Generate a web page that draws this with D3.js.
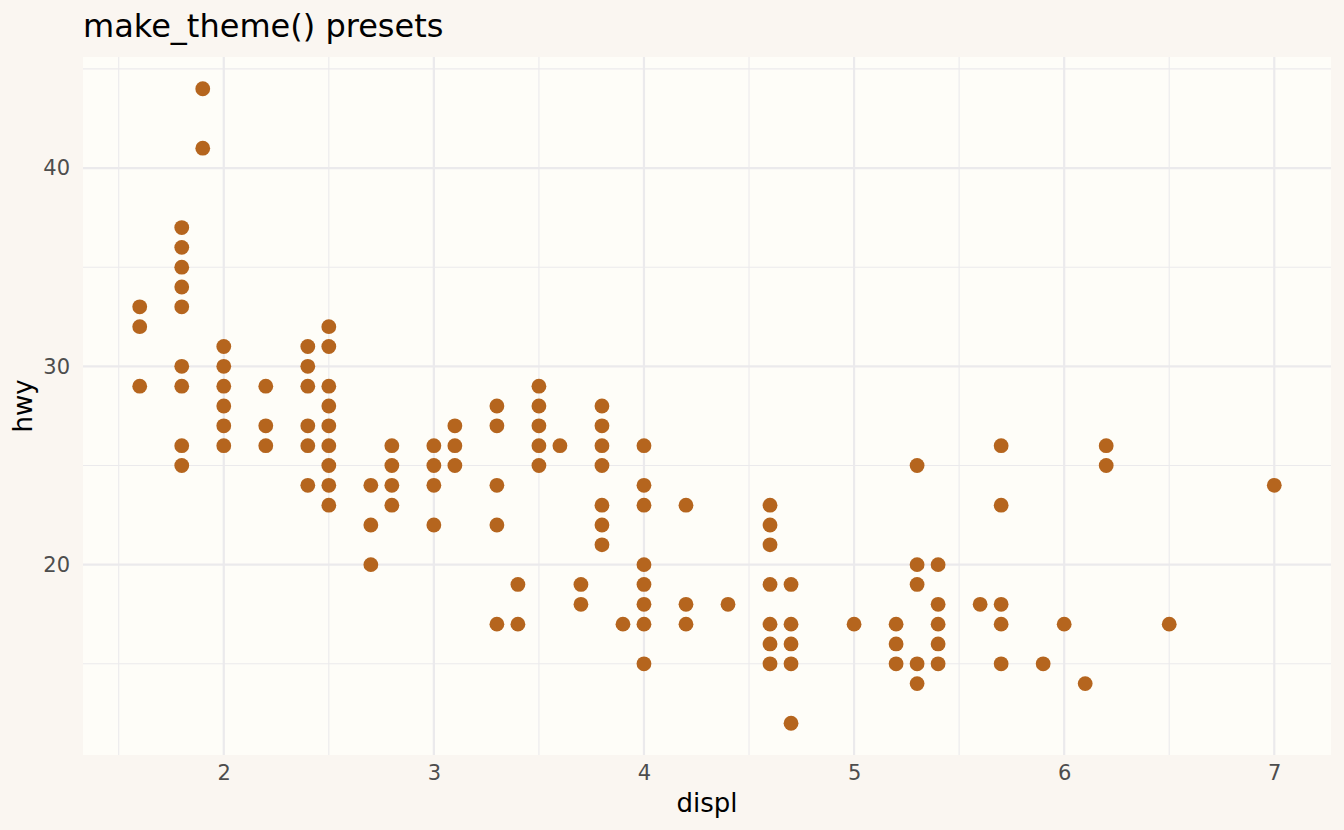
<!DOCTYPE html>
<html>
<head>
<meta charset="utf-8">
<script src="https://cdn.jsdelivr.net/npm/d3@7"></script>
<style>
  body { margin: 0; background: #faf6f1; }
  svg { display: block; font-family: "DejaVu Sans", sans-serif; }
  .tick text { fill: #4d4d4d; font-size: 21px; }
</style>
</head>
<body>
<div id="chart"></div>
<script>
// engine displacement and the highway mpg values seen at each one
const displ = [1.6, 1.8, 1.9, 2.0, 2.2, 2.4, 2.5, 2.7, 2.8, 3.0, 3.1, 3.3, 3.4, 3.5, 3.6, 3.7,
  3.8, 3.9, 4.0, 4.2, 4.4, 4.6, 4.7, 5.0, 5.2, 5.3, 5.4, 5.6, 5.7, 5.9, 6.0, 6.1, 6.2, 6.5, 7.0];
const hwy = [
  [33, 32, 29],
  [37, 36, 35, 34, 33, 30, 29, 26, 25],
  [44, 41],
  [31, 30, 29, 28, 27, 26],
  [29, 27, 26],
  [31, 30, 29, 27, 26, 24],
  [32, 31, 29, 28, 27, 26, 25, 24, 23],
  [24, 22, 20],
  [26, 25, 24, 23],
  [26, 25, 24, 22],
  [27, 26, 25],
  [28, 27, 24, 22, 17],
  [19, 17],
  [29, 28, 27, 26, 25],
  [26],
  [19, 18],
  [28, 27, 26, 25, 23, 22, 21],
  [17],
  [26, 24, 23, 20, 19, 18, 17, 15],
  [23, 18, 17],
  [18],
  [23, 22, 21, 19, 17, 16, 15],
  [19, 17, 16, 15, 12],
  [17],
  [17, 16, 15],
  [25, 20, 19, 15, 14],
  [20, 18, 17, 16, 15],
  [18],
  [26, 23, 18, 17, 15],
  [15],
  [17],
  [14],
  [26, 25],
  [17],
  [24],
];

const xTicks = [2, 3, 4, 5, 6, 7];
const xMinor = [1.5, 2.5, 3.5, 4.5, 5.5, 6.5];
const yTicks = [20, 30, 40];
const yMinor = [15, 25, 35, 45];

const points = displ.flatMap((d, i) => hwy[i].map((h) => ({ displ: d, hwy: h })));

const W = 1344, H = 830;
const panel = { left: 83, right: 1331, top: 57, bottom: 755 };

const svg = d3.select("#chart").append("svg")
  .attr("width", W)
  .attr("height", H);

svg.append("rect").attr("width", W).attr("height", H).attr("fill", "#faf6f1");

// ggplot-style 5% expansion on both axes
const xExt = d3.extent(points, (d) => d.displ),
  yExt = d3.extent(points, (d) => d.hwy);
const xPad = (xExt[1] - xExt[0]) * 0.05,
  yPad = (yExt[1] - yExt[0]) * 0.05;

const x = d3.scaleLinear()
  .domain([xExt[0] - xPad, xExt[1] + xPad])
  .range([panel.left, panel.right]);
const y = d3.scaleLinear()
  .domain([yExt[0] - yPad, yExt[1] + yPad])
  .range([panel.bottom, panel.top]);

svg.append("rect")
  .attr("x", panel.left).attr("y", panel.top)
  .attr("width", panel.right - panel.left)
  .attr("height", panel.bottom - panel.top)
  .attr("fill", "#fefdf8");

const grid = svg.append("g").attr("stroke", "#ebeaec");

grid.selectAll(".xminor").data(xMinor).enter().append("line")
  .attr("x1", (d) => x(d)).attr("x2", (d) => x(d))
  .attr("y1", panel.top).attr("y2", panel.bottom)
  .attr("stroke-width", 1.1);
grid.selectAll(".yminor").data(yMinor).enter().append("line")
  .attr("x1", panel.left).attr("x2", panel.right)
  .attr("y1", (d) => y(d)).attr("y2", (d) => y(d))
  .attr("stroke-width", 1.1);
grid.selectAll(".xmajor").data(xTicks).enter().append("line")
  .attr("x1", (d) => x(d)).attr("x2", (d) => x(d))
  .attr("y1", panel.top).attr("y2", panel.bottom)
  .attr("stroke-width", 2.2);
grid.selectAll(".ymajor").data(yTicks).enter().append("line")
  .attr("x1", panel.left).attr("x2", panel.right)
  .attr("y1", (d) => y(d)).attr("y2", (d) => y(d))
  .attr("stroke-width", 2.2);

// tick labels only, no tick marks or axis line
const xAxis = svg.append("g")
  .attr("transform", "translate(0," + panel.bottom + ")")
  .call(d3.axisBottom(x).tickValues(xTicks).tickSize(0).tickPadding(10).tickFormat(d3.format("d")));
const yAxis = svg.append("g")
  .attr("transform", "translate(" + panel.left + ",0)")
  .call(d3.axisLeft(y).tickValues(yTicks).tickSize(0).tickPadding(13).tickFormat(d3.format("d")));
xAxis.select(".domain").remove();
yAxis.select(".domain").remove();
svg.selectAll(".tick text").attr("font-family", "DejaVu Sans").attr("font-size", 21);

svg.selectAll(".dot")
  .data(points)
  .enter()
  .append("circle")
  .attr("class", "dot")
  .attr("cx", (d) => x(d.displ))
  .attr("cy", (d) => y(d.hwy))
  .attr("r", 7.4)
  .attr("fill", "#b5651e");

svg.append("text")
  .attr("x", panel.left).attr("y", 37)
  .attr("font-size", 32)
  .attr("fill", "#000")
  .text("make_theme() presets");

svg.append("text")
  .attr("x", (panel.left + panel.right) / 2).attr("y", 812)
  .attr("text-anchor", "middle")
  .attr("font-size", 26)
  .attr("fill", "#000")
  .text("displ");

svg.append("text")
  .attr("transform", "translate(32," + (panel.top + panel.bottom) / 2 + ") rotate(-90)")
  .attr("text-anchor", "middle")
  .attr("font-size", 26)
  .attr("fill", "#000")
  .text("hwy");
</script>
</body>
</html>
